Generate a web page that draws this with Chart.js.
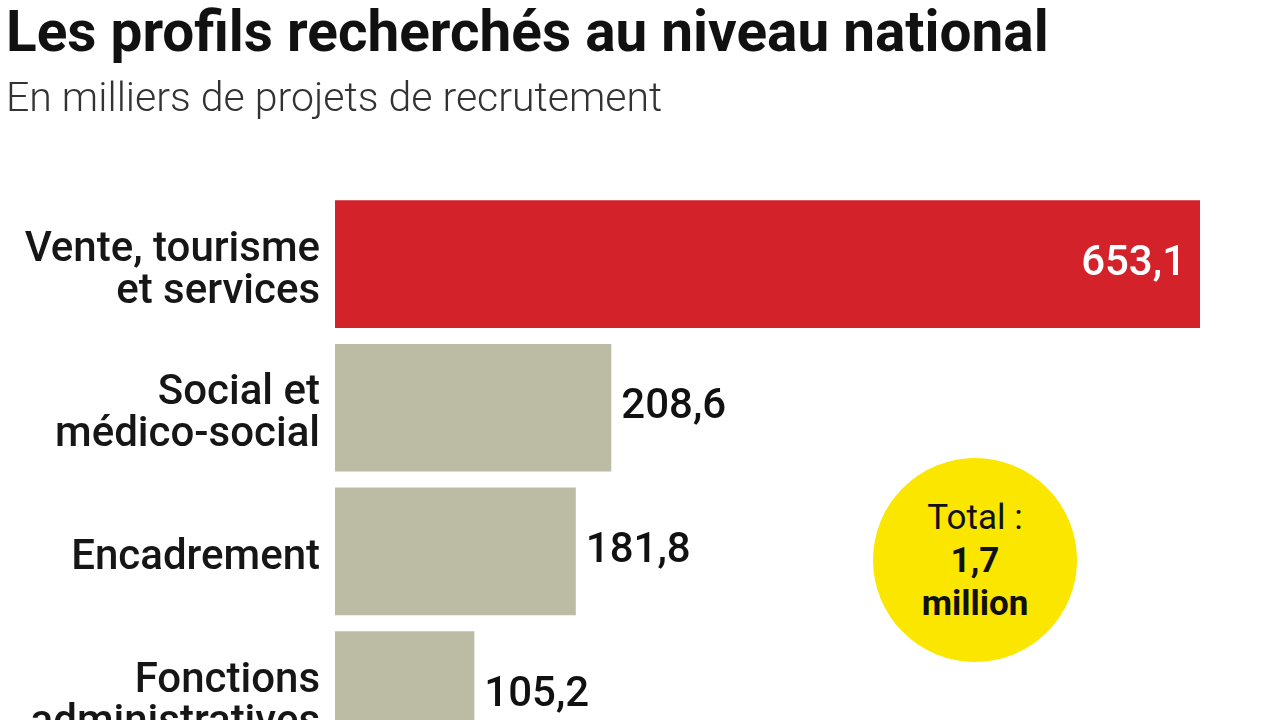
<!DOCTYPE html>
<html lang="fr">
<head>
<meta charset="utf-8">
<title>Les profils recherchés au niveau national</title>
<script src="https://cdn.jsdelivr.net/npm/chart.js@4/dist/chart.umd.min.js"></script>
<style>
  html, body { margin: 0; padding: 0; background: #fff; overflow: hidden; }
  body { width: 1280px; height: 720px; position: relative; font-family: Roboto, "Noto Sans", sans-serif; }
  #chart { position: absolute; left: 0; top: 0; }
  #total {
    position: absolute; left: 873px; top: 458px; width: 204px; height: 204px;
    border-radius: 50%; background: #fbe600; color: #111;
    display: flex; flex-direction: column; align-items: center; justify-content: center;
    font-size: 35px; line-height: 43px; text-align: center;
  }
  #total b { font-weight: 700; }
</style>
</head>
<body>
<canvas id="chart" width="1280" height="767"></canvas>
<div id="total"><span>Total :</span><b>1,7</b><b>million</b></div>
<script>
const categories = [
  ["Vente, tourisme", "et services"],
  ["Social et", "médico-social"],
  ["Encadrement"],
  ["Fonctions", "administratives"]
];
const values = [653.1, 208.6, 181.8, 105.2];
const barColors = ['#d3222a', '#bcbba4', '#bcbba4', '#bcbba4'];

const fmt = v => v.toFixed(1).replace('.', ',');

// value labels next to / inside the bars
const valueLabels = {
  id: 'valueLabels',
  afterDatasetsDraw(chart) {
    const ctx = chart.ctx;
    const meta = chart.getDatasetMeta(0);
    ctx.save();
    ctx.font = '500 42px Roboto';
    ctx.textBaseline = 'middle';
    meta.data.forEach((bar, i) => {
      if (i === 0) {
        ctx.fillStyle = '#fff';
        ctx.textAlign = 'right';
        ctx.fillText(fmt(values[i]), bar.x - 14, bar.y);
      } else {
        ctx.fillStyle = '#111';
        ctx.textAlign = 'left';
        ctx.fillText(fmt(values[i]), bar.x + 10, bar.y);
      }
    });
    ctx.restore();
  }
};

new Chart(document.getElementById('chart'), {
  type: 'bar',
  data: {
    labels: categories,
    datasets: [{
      data: values,
      backgroundColor: barColors,
      borderWidth: 0,
      barPercentage: 0.889,
      categoryPercentage: 1
    }]
  },
  options: {
    indexAxis: 'y',
    responsive: false,
    animation: false,
    layout: { padding: { left: 6, right: 0, top: 0, bottom: 0 } },
    scales: {
      x: {
        display: false,
        min: 0,
        max: 713.5
      },
      y: {
        afterFit: axis => {
          axis.width = 329;
          axis.paddingTop = 0;
          axis.paddingBottom = 0;
        },
        grid: { display: false, drawTicks: false },
        border: { display: false },
        ticks: {
          color: '#161616',
          padding: 15,
          labelOffset: 7,
          font: { family: 'Roboto', size: 42, weight: '500', lineHeight: 1.0 }
        }
      }
    },
    plugins: {
      legend: { display: false },
      tooltip: { enabled: false },
      title: {
        display: true,
        align: 'start',
        text: 'Les profils recherchés au niveau national',
        color: '#111',
        font: { family: 'Roboto', size: 56.7, weight: 'bold', lineHeight: 1.0 },
        padding: { top: 8, bottom: 6 }
      },
      subtitle: {
        display: true,
        align: 'start',
        text: 'En milliers de projets de recrutement',
        color: '#333',
        font: { family: 'Roboto', size: 41, weight: '300', lineHeight: 1.0 },
        padding: { top: 10, bottom: 70.5 }
      }
    }
  },
  plugins: [valueLabels]
});
</script>
</body>
</html>
